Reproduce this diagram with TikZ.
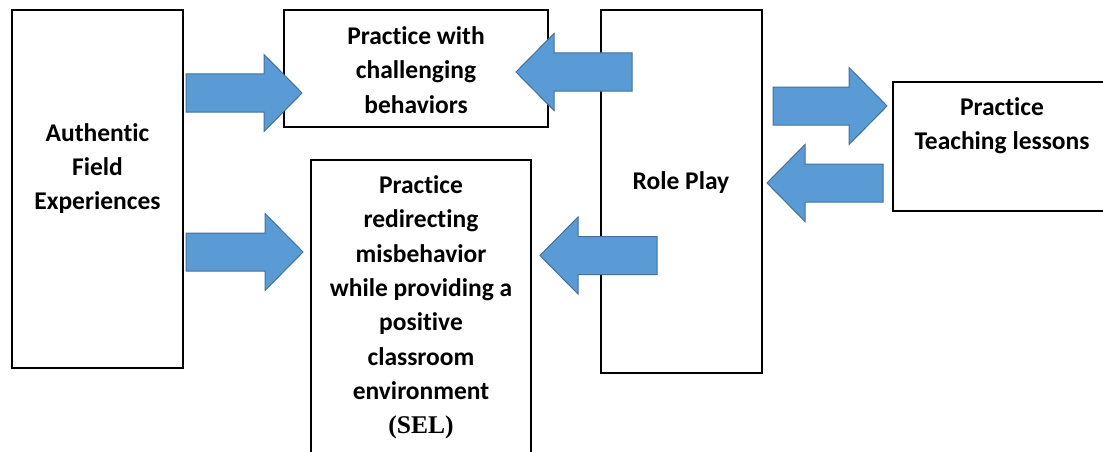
\documentclass[tikz,border=0pt]{standalone}
\usepackage{fontspec}
\setmainfont[Ligatures=NoCommon]{Carlito}
\newfontfamily\timesfont{Liberation Serif}
\definecolor{arrowfill}{HTML}{5B9BD5}
\definecolor{arrowline}{HTML}{41719C}
\newcommand\rightblock[4]{% name, tail x, tip x, center y
  \fill[blockarrow] (#2,#4-19) -- (#3-38,#4-19) -- (#3-38,#4-38.5) -- (#3,#4) -- (#3-38,#4+38.5) -- (#3-38,#4+19) -- (#2,#4+19) -- cycle;
  \coordinate (#1) at (#3,#4);}
\newcommand\leftblock[4]{% name, tail x, tip x, center y
  \fill[blockarrow] (#2,#4-19) -- (#3+38,#4-19) -- (#3+38,#4-38.5) -- (#3,#4) -- (#3+38,#4+38.5) -- (#3+38,#4+19) -- (#2,#4+19) -- cycle;
  \coordinate (#1) at (#3,#4);}
\begin{document}
\begin{tikzpicture}[x=1pt,y=-1pt,
  box/.style={draw=black,line width=1.8pt,fill=white},
  blockarrow/.style={fill=arrowfill,draw=arrowline,line width=1pt,line join=miter},
  label/.style={align=center,inner sep=0pt,font=\bfseries\fontsize{25.5}{34.3}\selectfont}]
\useasboundingbox (0,0) rectangle (1103,452);
\begin{scope}
\clip (0,0) rectangle (1103,452);
% boxes
\draw[box] (12,10) rectangle (183,368);
\coordinate (afe) at (97.5,189);
\draw[box] (284,10) rectangle (548,127);
\coordinate (pcb) at (416,68);
\draw[box] (311,160) rectangle (531,470);
\coordinate (prm) at (421,300);
\draw[box] (601,10) rectangle (762,373);
\coordinate (rp) at (681,190);
\draw[box] (893,82) rectangle (1112,211);
\coordinate (ptl) at (1000,146);
% arrows
\rightblock{a1}{186}{302}{93}
\rightblock{a2}{186}{303}{252}
\leftblock{a3}{632}{516}{72}
\leftblock{a4}{657}{540}{255.5}
\rightblock{a5}{773}{887}{106}
\leftblock{a6}{883}{767}{183}
% texts
\node[label] (tafe) at (97.5,168.5) {Authentic\\Field\\Experiences};
\node[label] (tpcb) at (416,70) {Practice with\\challenging\\behaviors};
\node[label] (tprm) at (421,307.5) {Practice\\redirecting\\misbehavior\\while providing a\\positive\\classroom\\environment\\{\timesfont (SEL)}};
\node[label] (trp) at (681,183) {Role Play};
\node[label] (tptl) at (1002,125.5) {Practice\\Teaching lessons};
\end{scope}
\end{tikzpicture}
\end{document}
